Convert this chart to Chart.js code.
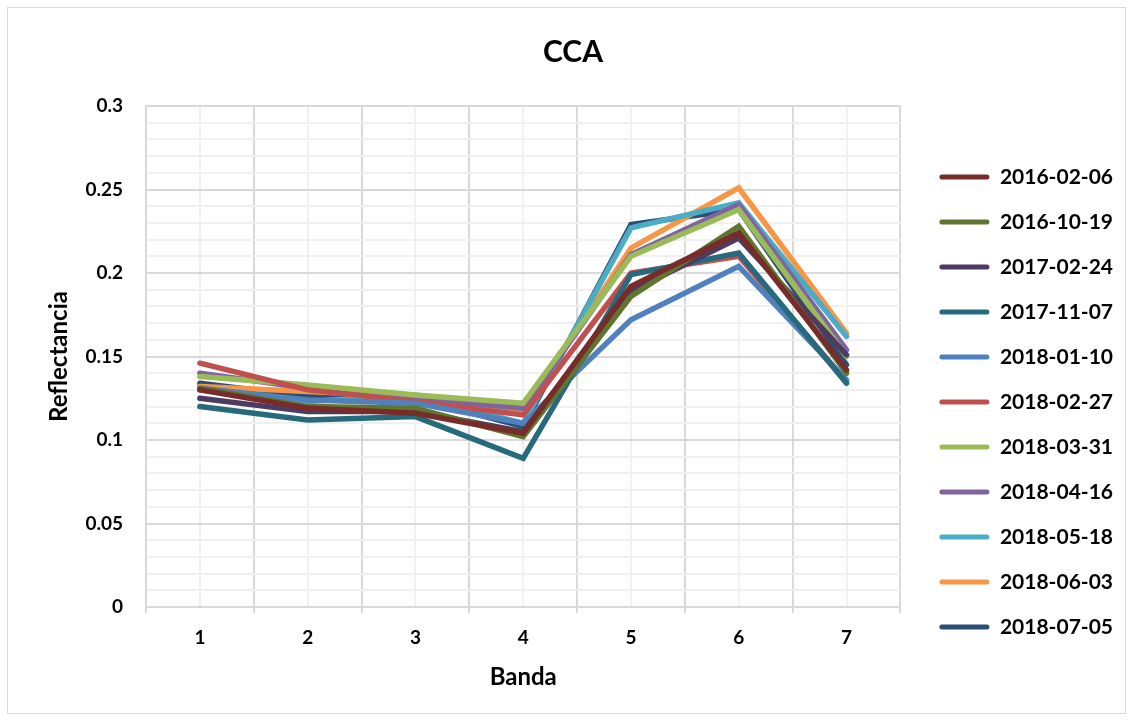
<!DOCTYPE html>
<html>
<head>
<meta charset="utf-8">
<script src="https://cdn.jsdelivr.net/npm/chart.js@4/dist/chart.umd.min.js"></script>
<style>
  html, body { margin: 0; padding: 0; background: #ffffff; }
  #wrap { position: relative; width: 1133px; height: 721px; }
  #frame { position: absolute; left: 7px; top: 7px; width: 1117px; height: 705px; border: 1px solid #d9d9d9; pointer-events: none; }
</style>
</head>
<body>
<div id="wrap">
  <canvas id="c" width="1133" height="721"></canvas>
  <div id="frame"></div>
</div>
<script>
// ---- data ----
const bandLabels = ['1', '2', '3', '4', '5', '6', '7'];
const seriesNames = ['2016-02-06', '2016-10-19', '2017-02-24', '2017-11-07', '2018-01-10', '2018-02-27',
                     '2018-03-31', '2018-04-16', '2018-05-18', '2018-06-03', '2018-07-05'];
const s20160206 = [0.130, 0.119, 0.116, 0.104, 0.192, 0.224, 0.142];
const s20161019 = [0.131, 0.120, 0.119, 0.102, 0.186, 0.228, 0.140];
const s20170224 = [0.125, 0.117, 0.117, 0.105, 0.189, 0.221, 0.151];
const s20171107 = [0.120, 0.112, 0.114, 0.089, 0.199, 0.212, 0.134];
const s20180110 = [0.131, 0.124, 0.122, 0.110, 0.172, 0.204, 0.136];
const s20180227 = [0.146, 0.130, 0.123, 0.115, 0.200, 0.210, 0.135];
const s20180331 = [0.138, 0.133, 0.127, 0.122, 0.210, 0.238, 0.150];
const s20180416 = [0.140, 0.131, 0.125, 0.119, 0.211, 0.241, 0.154];
const s20180518 = [0.130, 0.123, 0.127, 0.110, 0.227, 0.242, 0.162];
const s20180603 = [0.132, 0.129, 0.126, 0.117, 0.215, 0.251, 0.164];
const s20180705 = [0.134, 0.126, 0.125, 0.108, 0.229, 0.238, 0.145];
const seriesValues = [s20160206, s20161019, s20170224, s20171107, s20180110, s20180227,
                      s20180331, s20180416, s20180518, s20180603, s20180705];
const seriesColors = ['#772C2A', '#5F7530', '#4D3B62', '#276A7C', '#4F81BD', '#C0504D',
                      '#9BBB59', '#8064A2', '#4BACC6', '#F79646', '#2C4D75'];

const FONT = 'Lato, "Open Sans", sans-serif';
const MAJOR = '#d9d9d9';
const MINOR = '#f0f0f0';

function build() {
  const datasets = seriesNames.map((name, i) => ({
    label: name,
    data: seriesValues[i],
    borderColor: seriesColors[i],
    backgroundColor: seriesColors[i],
    borderWidth: 5.5,
    pointRadius: 0,
    pointHoverRadius: 0,
    tension: 0,
    fill: false,
    borderCapStyle: 'round',
    borderJoinStyle: 'miter'
  }));

  Chart.defaults.font.family = FONT;
  Chart.defaults.color = '#000000';

  new Chart(document.getElementById('c'), {
    type: 'line',
    data: { labels: bandLabels, datasets: datasets },
    options: {
      responsive: false,
      animation: false,
      events: [],
      layout: { padding: { left: 23, right: 10, top: 20, bottom: 20 } },
      plugins: {
        title: {
          display: true,
          text: 'CCA',
          font: { size: 30, weight: 'bold', family: FONT },
          color: '#000000',
          padding: { top: 14, bottom: 36 }
        },
        legend: {
          display: true,
          position: 'right',
          align: 'center',
          maxWidth: 400,
          title: { display: true, text: ' ', font: { size: 10 }, padding: { top: 71, bottom: 0 } },
          labels: {
            boxWidth: 50,
            boxHeight: 5,
            padding: 24,
            color: '#000000',
            font: { size: 21, weight: 'bold', family: FONT },
            useBorderRadius: true,
            borderRadius: 2.5,
            generateLabels: (chart) => {
              const items = Chart.defaults.plugins.legend.labels.generateLabels(chart);
              items.forEach(it => { it.lineWidth = 0; it.strokeStyle = 'rgba(0,0,0,0)'; });
              return items;
            }
          }
        },
        tooltip: { enabled: false }
      },
      scales: {
        x: {
          type: 'category',
          position: 'bottom',
          offset: true,
          grid: { offset: true, color: MAJOR, lineWidth: 2, drawTicks: true, tickLength: 6, tickColor: MAJOR },
          border: { display: true, color: MAJOR, width: 2 },
          ticks: { padding: 13, font: { size: 19, weight: 'bold', family: FONT }, color: '#000000' },
          title: { display: true, text: 'Banda', font: { size: 24, weight: 'bold', family: FONT }, color: '#000000', padding: { top: 0, bottom: 9 } },
          afterFit: (s) => { s.height = 94; }
        },
        x2: {
          type: 'category',
          labels: bandLabels,
          position: 'top',
          offset: true,
          grid: { offset: false, color: MINOR, lineWidth: 2, drawTicks: false },
          border: { display: false },
          ticks: { display: false },
          afterFit: (s) => { s.height = 0; }
        },
        y: {
          type: 'linear',
          position: 'left',
          min: 0,
          max: 0.3,
          grid: {
            drawTicks: false,
            lineWidth: 2,
            color: (ctx) => (ctx.tick && Math.round(ctx.tick.value * 100) % 5 === 0) ? MAJOR : MINOR
          },
          border: { display: true, color: MAJOR, width: 2 },
          ticks: {
            stepSize: 0.01,
            autoSkip: false,
            padding: 23,
            font: { size: 19, weight: 'bold', family: FONT },
            color: '#000000',
            callback: (v) => { const k = Math.round(v * 100); return k % 5 === 0 ? String(k / 100) : ''; }
          },
          title: { display: true, text: 'Reflectancia', font: { size: 24, weight: 'bold', family: FONT }, color: '#000000', padding: { top: 22, bottom: 0 } },
          afterFit: (s) => { s.width = 123; }
        },
        yr: {
          type: 'linear',
          position: 'right',
          display: true,
          grid: { display: false, drawTicks: false },
          border: { display: false },
          ticks: { display: false },
          afterFit: (s) => { s.width = 15; }
        }
      }
    }
  });
}

const fontLoads = [
  document.fonts.load('bold 21px Lato'),
  document.fonts.load('bold 19px Lato'),
  document.fonts.load('bold 24px Lato'),
  document.fonts.load('bold 30px Lato')
];
Promise.all(fontLoads).then(build, build);
</script>
</body>
</html>
